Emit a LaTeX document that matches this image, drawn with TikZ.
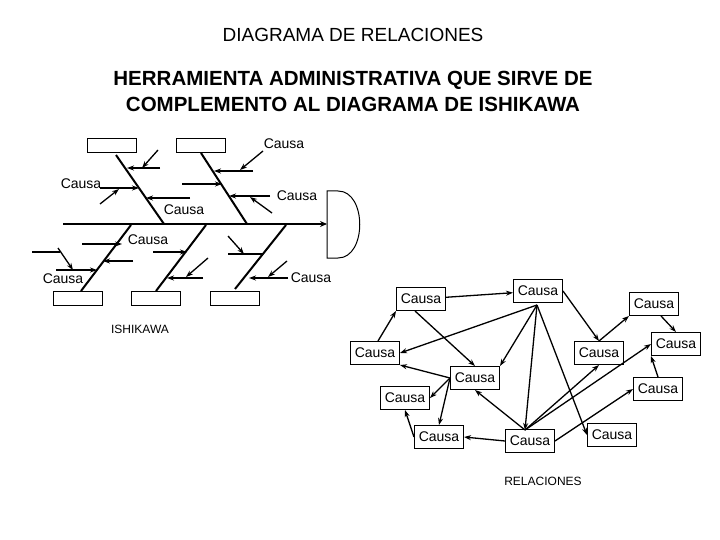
\documentclass[tikz,border=0pt]{standalone}
\usepackage{fontspec}
\setmainfont{Liberation Sans}
\usetikzlibrary{arrows.meta}
\begin{document}
\begin{tikzpicture}[x=1pt,y=-1pt,
  bx/.style={draw,line width=1pt,minimum width=49pt,minimum height=23pt,inner sep=0pt,font=\fontsize{14}{14}\selectfont},
  lb/.style={font=\fontsize{14}{14}\selectfont,inner sep=1pt},
  ar/.style={-{Stealth[length=7pt,width=5pt]},line width=1.3pt},
  bone/.style={line width=2pt},
  ebox/.style={draw,line width=1pt,minimum width=49pt,minimum height=14pt,inner sep=0pt}]
\useasboundingbox (0,0) rectangle (720,540);
\node[font=\fontsize{19}{19}\selectfont] (t1) at (353,35) {DIAGRAMA DE RELACIONES};
\node[font=\bfseries\fontsize{20.5}{26}\selectfont,align=center] (t2) at (353,91) {HERRAMIENTA ADMINISTRATIVA QUE SIRVE DE\\COMPLEMENTO AL DIAGRAMA DE ISHIKAWA};
% fishbone
\coordinate (s0) at (63,224); \coordinate (s1) at (327,224);
\draw[bone,-{Stealth[length=7pt,width=6pt]}] (s0) -- (s1);
\draw[line width=1pt] (327,191) -- (338,191) .. controls (367,191) and (367,258) .. (338,258) -- (327,258) -- cycle;
\node[ebox] (tb1) at (112,146) {}; \node[ebox] (tb2) at (201,146) {};
\node[ebox] (bb1) at (78,298) {}; \node[ebox] (bb2) at (156,298) {}; \node[ebox] (bb3) at (235,298) {};
\draw[bone] (116,155) -- (164,224); \draw[bone] (201,153) -- (247,224);
\draw[bone] (131,225) -- (81,291); \draw[bone] (206,225) -- (156,291); \draw[bone] (286,225) -- (235,289);
% ribs top bone 1
\draw[ar] (160,168) -- (127,168); \draw[ar] (158,150) -- (142,168);
\draw[ar] (100,188) -- (139,188); \draw[ar] (100,204) -- (119,189);
\draw[ar] (190,198) -- (146,198);
% ribs top bone 2
\draw[ar] (253,171) -- (214,171); \draw[ar] (263,151) -- (240,170);
\draw[ar] (182,184) -- (222,184);
\draw[ar] (270,196) -- (229,196); \draw[ar] (272,213) -- (250,197);
% bottom bone 1
\draw[ar] (82,244) -- (122,244); \draw[ar] (133,261) -- (103,261);
\draw[ar] (56,270) -- (97,270);
\draw[line width=1.3pt] (32,252) -- (60,252); \draw[ar] (58,248) -- (73,270);
% bottom bone 2
\draw[ar] (153,252) -- (187,252); \draw[ar] (203,278) -- (167,278); \draw[ar] (208,258) -- (186,277);
% bottom bone 3
\draw[ar] (228,236) -- (244,254); \draw[line width=1.3pt] (228,254) -- (262,254);
\draw[ar] (288,278) -- (249,278); \draw[ar] (287,261) -- (268,277);
\node[lb] (c1) at (81,184) {Causa}; \node[lb] (c2) at (284,144) {Causa};
\node[lb] (c3) at (297,196) {Causa}; \node[lb] (c4) at (184,210) {Causa};
\node[lb] (c5) at (148,240) {Causa}; \node[lb] (c6) at (63,279) {Causa};
\node[lb] (c7) at (311,278) {Causa};
\node[font=\fontsize{12}{12}\selectfont] (ish) at (140,329) {ISHIKAWA};
% relations
\node[bx] (A) at (421,299) {Causa}; \node[bx] (B) at (538,291) {Causa};
\node[bx] (C) at (654,304) {Causa}; \node[bx] (D) at (676,344) {Causa};
\node[bx] (E) at (375,353) {Causa}; \node[bx] (F) at (599,353) {Causa};
\node[bx] (G) at (475,378) {Causa}; \node[bx] (H) at (658,389) {Causa};
\node[bx] (I) at (405,398) {Causa}; \node[bx] (J) at (439,437) {Causa};
\node[bx] (K) at (530,441) {Causa}; \node[bx] (L) at (612,435) {Causa};
\node[font=\fontsize{12}{12}\selectfont] (rel) at (543,481) {RELACIONES};
\coordinate (Bb) at (537,305); \coordinate (Kt) at (525,430);
\draw[ar] (E.north east) ++(-22,0) -- (A.south west);
\draw[ar] (A) -- (B);
\draw[ar] (B.east) -- (F.north);
\draw[ar] (F.north) -- (C.south west);
\draw[ar] (C.south east) ++(-18,0) -- (D.north);
\draw[ar] (H.north) -- (D.south west);
\draw[ar] (A.south) ++(-6,0) -- (G.north);
\draw[ar] (Bb) -- (E.east);
\draw[ar] (Bb) -- (G.north east);
\draw[ar] (Bb) -- (Kt);
\draw[ar] (Bb) -- (L.west);
\draw[ar] (G.west) -- (E.south east);
\draw[ar] (G.west) -- (I.east);
\draw[ar] (G.west) -- (J.north);
\draw[ar] (J.west) -- (I.south);
\draw[ar] (K.west) -- (J.east);
\draw[ar] (Kt) -- (G.south);
\draw[ar] (Kt) -- (F.south);
\draw[ar] (Kt) -- (D.west);
\draw[ar] (K.east) -- (H.west);
\end{tikzpicture}
\end{document}
